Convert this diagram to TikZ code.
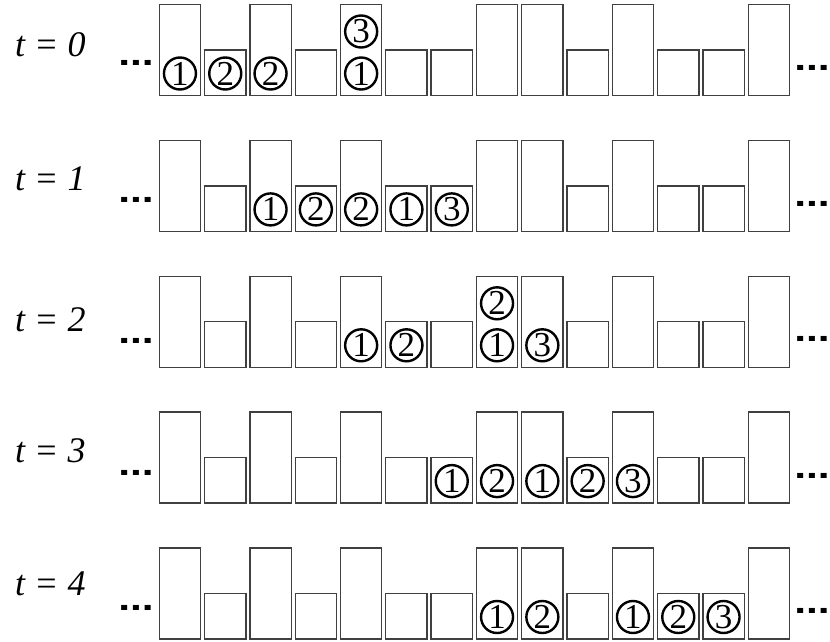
\documentclass[tikz,border=0pt]{standalone}
\usepackage{fontspec}
\setmainfont{Liberation Serif}
\newfontfamily\dotfont{Liberation Sans}
\begin{document}
\begin{tikzpicture}[x=1pt,y=-1pt,
  bar/.style={draw=black!75, line width=1.3pt, inner sep=0pt, outer sep=0pt, minimum width=41.3pt, anchor=south west},
  walker/.style={circle, draw=black, line width=2.4pt, minimum size=32pt, inner sep=0pt, outer sep=0pt, font=\fontsize{35}{35}\selectfont},
  tlabel/.style={anchor=base west, inner sep=0pt, font=\fontsize{36}{36}\selectfont\itshape},
  dots/.style={inner sep=0pt, font=\dotfont\bfseries\fontsize{34}{34}\selectfont}]
\useasboundingbox (0,0) rectangle (830,642);
\foreach \r/\bot in {0/95.5, 1/231.4, 2/367.3, 3/503.1, 4/639}{
  \foreach \i/\h in {0/91,1/45.5,2/91,3/45.5,4/91,5/45.5,6/45.5,7/91,8/91,9/45.5,10/91,11/45.5,12/45.5,13/91}{
    \node[bar, minimum height=\h pt] (b\r-\i) at ({159.3+45.3*\i}, \bot) {};
  }
}
\foreach \r/\i/\l/\d in {0/0/0/1, 0/1/0/2, 0/2/0/2, 0/4/0/1, 0/4/1/3,
  1/2/0/1, 1/3/0/2, 1/4/0/2, 1/5/0/1, 1/6/0/3,
  2/4/0/1, 2/5/0/2, 2/7/0/1, 2/7/1/2, 2/8/0/3,
  3/6/0/1, 3/7/0/2, 3/8/0/1, 3/9/0/2, 3/10/0/3,
  4/7/0/1, 4/8/0/2, 4/10/0/1, 4/11/0/2, 4/12/0/3}{
  \node[walker] (w\r-\i-\l) at ([yshift={22pt+42pt*\l}]b\r-\i.south) {\d};
}
\node[tlabel] (t0) at (15,57) {t = 0};
\node[tlabel] (t1) at (15,190.5) {t = 1};
\node[tlabel] (t2) at (15,331.5) {t = 2};
\node[tlabel] (t3) at (15,462) {t = 3};
\node[tlabel] (t4) at (15,595) {t = 4};
\foreach \r/\yl/\yr in {0/63/68, 1/200/204, 2/341/339, 3/472.5/476, 4/607.5/611}{
  \node[dots] (dl\r) at (136,\yl) {\scalebox{1.25}[1]{...}};
  \node[dots] (dr\r) at (812,\yr) {\scalebox{1.25}[1]{...}};
}
\end{tikzpicture}
\end{document}
